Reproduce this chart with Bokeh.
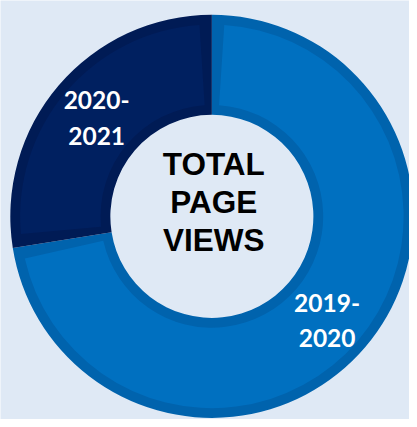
import math
from bokeh.plotting import figure
from bokeh.models import Range1d, ColumnDataSource
from bokeh.core.properties import value
from bokeh.embed import file_html
from bokeh.resources import INLINE

# ---- data ----
periods = ["2019-2020", "2020-2021"]
label_lines = [["2019-", "2020"], ["2020-", "2021"]]
shares = [72.5, 27.5]
center_title = ["TOTAL", "PAGE", "VIEWS"]

# ---- styles ----
fill_colors = ["#0070c0", "#002060"]
edge_colors = ["#0063ad", "#001b55"]
label_nudge_y = [-6, 0]
bg = "#dfe9f5"

W, H = 409, 419
RW, RH = 417, 427          # reference frame (data units)
cx, cy = 215.5, 207
r_in, r_out = 103.5, 205.5
band = 10

p = figure(width=W, height=H, output_backend="svg", toolbar_location=None,
           x_range=Range1d(0, RW), y_range=Range1d(0, RH),
           min_border=0, outline_line_color=None,
           background_fill_color=bg, border_fill_color=bg)
p.axis.visible = False
p.grid.visible = False

total = sum(shares)
starts, ends, mids = [], [], []
cum = 0.0
for v in shares:
    a0 = math.pi / 2 - cum / total * 2 * math.pi
    a1 = a0 - v / total * 2 * math.pi
    starts.append(a1)
    ends.append(a0)
    mids.append((a0 + a1) / 2)
    cum += v

src = ColumnDataSource(dict(x=[cx] * len(shares), y=[cy] * len(shares),
                            start=starts, end=ends, fill=fill_colors, edge=edge_colors))
p.annular_wedge(x="x", y="y", inner_radius=r_in, outer_radius=r_out,
                start_angle="start", end_angle="end", fill_color="edge",
                line_color=None, source=src)

inset = band / ((r_in + r_out) / 2)
src2 = ColumnDataSource(dict(x=[cx] * len(shares), y=[cy] * len(shares),
                             start=[s + inset for s in starts],
                             end=[e - inset for e in ends], fill=fill_colors))
p.annular_wedge(x="x", y="y", inner_radius=r_in + band, outer_radius=r_out - band,
                start_angle="start", end_angle="end", fill_color="fill",
                line_color=None, source=src2)

# slice labels
r_lab = (r_in + r_out) / 2
lx, ly, lt = [], [], []
for m, lines, dy in zip(mids, label_lines, label_nudge_y):
    x0 = cx + r_lab * math.cos(m)
    y0 = cy + r_lab * math.sin(m) + dy
    lx += [x0, x0]
    ly += [y0 + 18, y0 - 18]
    lt += lines
p.text(x=lx, y=ly, text=lt, text_color="white", text_font=value("Lato"),
       text_font_style="bold", text_font_size="24.5px", text_align="center",
       text_baseline="middle")

# centre title
tx = [cx + 2] * len(center_title)
ty = [cy + 53.5 - 39 * i for i in range(len(center_title))]
p.text(x=tx, y=ty, text=center_title, text_color="black",
       text_font=value("Liberation Sans"), text_font_style="bold",
       text_font_size="31.5px", text_align="center", text_baseline="middle")

html = file_html(p, INLINE)
html = html.replace("<body>", '<body style="background:%s">' % bg, 1)
open("out.html", "w").write(html)
